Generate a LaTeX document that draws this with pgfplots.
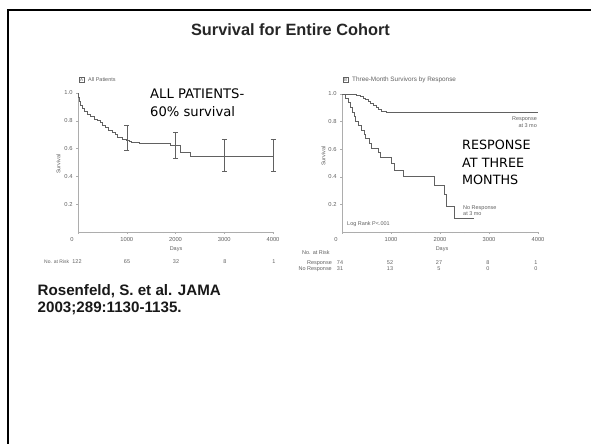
\documentclass[border=0pt]{standalone}
\usepackage{pgfplots}
\pgfplotsset{compat=1.18}
\usepackage{fontspec}
\setmainfont{Liberation Sans}
\newfontfamily\annfont{DejaVu Sans}
\definecolor{curve}{gray}{0.38}
\definecolor{axl}{gray}{0.68}
\definecolor{tlab}{gray}{0.38}
\begin{document}
\begin{tikzpicture}[x=1bp,y=1bp]
\useasboundingbox (0,0) rectangle (591,444);
\fill[white] (0,0) rectangle (591,444);
\draw[black, line width=2bp] (7.5,0) -- (7.5,433.5) -- (591,433.5);
\pgfplotsset{km/.style={
  scale only axis, xmin=0, xmax=4000, ymin=0, ymax=1,
  axis lines*=left, axis line style={axl, line width=0.5bp},
  tick style={axl, line width=0.4bp}, tick align=outside,
  major tick length=2bp, minor tick length=1.2bp,
  xtick={0,1000,2000,3000,4000}, minor x tick num=3,
  xticklabels={\llap{0\hspace{4.5bp}},1000,2000,3000,4000},
  ytick={0.2,0.4,0.6,0.8,1.0}, yticklabels={0.2,0.4,0.6,0.8,1.0},
  ticklabel style={font=\fontsize{5.8}{6.5}\selectfont, text=tlab},
  /pgf/number format/assume math mode=true,
  clip=false,
}}
% ---------- title ----------
\node[anchor=base, font=\fontsize{16.4}{19}\selectfont\bfseries, text=black!85] at (290.5,408) {Survival for Entire Cohort};
% ---------- left panel ----------
\begin{axis}[km, at={(78bp,212bp)}, anchor=south west, width=195bp, height=139bp]
\addplot[const plot, curve, line width=0.6bp] coordinates {
(0,1.0) (15,0.97) (30,0.94) (50,0.91) (80,0.89) (130,0.87) (200,0.85) (260,0.83)
(330,0.81) (400,0.80) (450,0.79) (500,0.77) (560,0.75) (620,0.73) (700,0.72)
(760,0.70) (800,0.68) (900,0.67) (1000,0.66) (1050,0.65) (1100,0.645) (1250,0.635)
(1900,0.625) (2100,0.575) (2300,0.545) (4000,0.545)};
\addplot[draw=none, mark=none, forget plot,
  error bars/.cd, y dir=both, y explicit,
  error bar style={draw=curve, line width=0.5bp, solid},
  error mark options={draw=curve, mark size=2.5bp, rotate=90}]
  coordinates {
  (1000,0.68) += (0,0.09) -= (0,0.09)
  (2000,0.625) += (0,0.095) -= (0,0.095)
  (3000,0.545) += (0,0.125) -= (0,0.105)
  (4000,0.545) += (0,0.125) -= (0,0.105)};
\end{axis}
\node[draw=tlab, inner sep=0.7bp, font=\fontsize{4.5}{5}\selectfont, text=tlab, minimum size=5bp] at (81.5,364) {A};
\node[anchor=west, font=\fontsize{5.5}{6}\selectfont, text=tlab, inner sep=0] at (88,364) {All Patients};
\node[rotate=90, font=\fontsize{5.5}{6}\selectfont, text=tlab] at (58.5,280) {Survival};
\node[font=\fontsize{5.5}{6}\selectfont, text=tlab] at (176,195) {Days};
\begin{scope}[font=\fontsize{5.5}{6}\selectfont, text=tlab]
\node[anchor=west, inner sep=0, font=\fontsize{5}{6}\selectfont] at (44,182) {No. at Risk};
\node at (77,182) {122};
\node at (127,182) {65};
\node at (176,182) {32};
\node at (225,182) {8};
\node at (274,182) {1};
\end{scope}
\node[anchor=west, align=left, font=\annfont\fontsize{13.2}{18}\selectfont, inner sep=0] at (150,341) {ALL PATIENTS-\\60\% survival};
% ---------- right panel ----------
\begin{axis}[km, at={(342bp,212bp)}, anchor=south west, width=196bp, height=138bp]
\addplot[const plot, curve, line width=0.6bp] coordinates {
(0,1.0) (300,0.99) (380,0.98) (430,0.97) (480,0.96) (530,0.95) (580,0.93)
(630,0.92) (700,0.90) (740,0.89) (800,0.875) (900,0.865) (4000,0.865)};
\addplot[const plot, curve, line width=0.6bp] coordinates {
(0,1.0) (70,0.97) (120,0.94) (160,0.90) (200,0.87) (250,0.84) (280,0.80)
(340,0.77) (400,0.74) (450,0.71) (480,0.68) (550,0.645) (600,0.61) (750,0.58)
(780,0.54) (1000,0.50) (1060,0.45) (1260,0.40) (1880,0.34) (2080,0.27)
(2120,0.183) (2290,0.10) (2700,0.10)};
\end{axis}
\node[draw=tlab, inner sep=0.7bp, font=\fontsize{4.5}{5}\selectfont, text=tlab, minimum size=5bp] at (345.5,364) {B};
\node[anchor=west, font=\fontsize{6.4}{7}\selectfont, text=tlab, inner sep=0] at (352,364) {Three-Month Survivors by Response};
\node[rotate=90, font=\fontsize{5.5}{6}\selectfont, text=tlab] at (323.5,288) {Survival};
\node[font=\fontsize{5.5}{6}\selectfont, text=tlab] at (442,195) {Days};
\node[anchor=east, align=right, font=\fontsize{5.5}{6.5}\selectfont, text=tlab, inner sep=0] at (537,322) {Response\\at 3 mo};
\node[anchor=west, align=left, font=\fontsize{5.5}{6.5}\selectfont, text=tlab, inner sep=0] at (463,233.5) {No Response\\at 3 mo};
\node[anchor=west, font=\fontsize{5.5}{6}\selectfont, text=tlab, inner sep=0] at (347,220) {Log Rank P<.001};
\begin{scope}[font=\fontsize{5.5}{6}\selectfont, text=tlab]
\node[anchor=west, inner sep=0] at (302,191) {No. at Risk};
\node[anchor=east, inner sep=0] at (332,181) {Response};
\node[anchor=east, inner sep=0] at (332,175) {No Response};
\node at (340,181) {74}; \node at (340,175) {31};
\node at (390,181) {52}; \node at (390,175) {13};
\node at (439,181) {27}; \node at (439,175) {5};
\node at (488,181) {8};  \node at (488,175) {0};
\node at (536,181) {1};  \node at (536,175) {0};
\end{scope}
\node[anchor=west, align=left, font=\annfont\fontsize{12.8}{17.5}\selectfont, inner sep=0] at (462,281.5) {RESPONSE\\AT THREE\\MONTHS};
% ---------- citation ----------
\node[anchor=base west, align=left, font=\fontsize{15.2}{17.5}\selectfont\bfseries, inner sep=0, text=black!90] at (37.5,131.5) {Rosenfeld, S. et al. JAMA\\2003;289:1130-1135.};
\end{tikzpicture}
\end{document}
